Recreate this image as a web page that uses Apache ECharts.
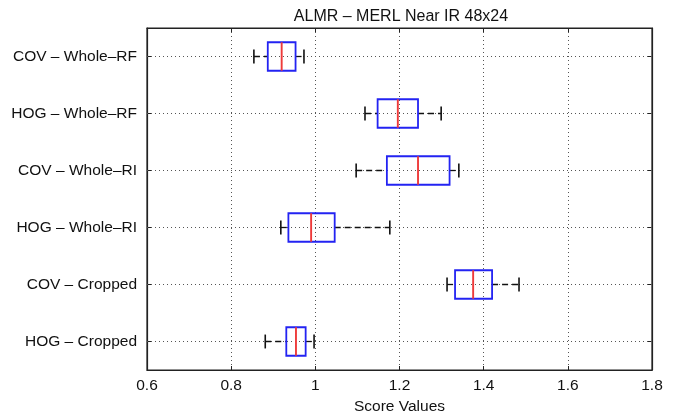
<!DOCTYPE html>
<html>
<head>
    <meta charset="utf-8"/>
    <title>ALMR – MERL Near IR 48x24</title>
    <script src="https://cdn.jsdelivr.net/npm/echarts@6/dist/echarts.min.js"></script>
    <style>
        html, body { margin: 0; padding: 0; background: #fff; }
        #main { width: 679px; height: 414px; }
    </style>
</head>
<body>
<div id="main"></div>
<script type="text/javascript">
    // data, top row first
    var categories = ['COV – Whole–RF', 'HOG – Whole–RF', 'COV – Whole–RI', 'HOG – Whole–RI', 'COV – Cropped', 'HOG – Cropped']
    var whiskerLow = [0.854, 1.118, 1.097, 0.918, 1.313, 0.881]
    var q1 = [0.887, 1.148, 1.170, 0.936, 1.332, 0.931]
    var median = [0.920, 1.196, 1.244, 0.990, 1.375, 0.954]
    var q3 = [0.953, 1.244, 1.319, 1.046, 1.420, 0.977]
    var whiskerHigh = [0.973, 1.299, 1.341, 1.177, 1.484, 0.997]
    var xMin = 0.6, xMax = 1.8, xStep = 0.2

    var FONT = '"Liberation Sans", Arial, Helvetica, sans-serif'
    var gridLine = { color: '#555', width: 1, type: [1, 3] }

    var rows = categories.map(function (c, i) {
        return [i, whiskerLow[i], q1[i], median[i], q3[i], whiskerHigh[i]]
    })

    function renderBox(params, api) {
        var i = api.value(0)
        var band = api.size([0, 1])[1]
        var half = band * 0.25
        var capHalf = band * 0.122
        var pLow = api.coord([api.value(1), i])
        var pQ1 = api.coord([api.value(2), i])
        var pMed = api.coord([api.value(3), i])
        var pQ3 = api.coord([api.value(4), i])
        var pHigh = api.coord([api.value(5), i])
        var y = pLow[1]
        var dash = { stroke: '#111', lineWidth: 1.3, lineDash: [6, 4] }
        var solid = { stroke: '#111', lineWidth: 1.6 }
        return {
            type: 'group',
            children: [
                { type: 'line', shape: { x1: pLow[0], y1: y, x2: pQ1[0], y2: y }, style: dash },
                { type: 'line', shape: { x1: pQ3[0], y1: y, x2: pHigh[0], y2: y }, style: dash },
                { type: 'line', shape: { x1: pLow[0], y1: y - capHalf, x2: pLow[0], y2: y + capHalf }, style: solid },
                { type: 'line', shape: { x1: pHigh[0], y1: y - capHalf, x2: pHigh[0], y2: y + capHalf }, style: solid },
                {
                    type: 'rect',
                    shape: { x: pQ1[0], y: y - half, width: pQ3[0] - pQ1[0], height: half * 2 },
                    style: { fill: 'none', stroke: '#2323f2', lineWidth: 1.8 }
                },
                {
                    type: 'line',
                    shape: { x1: pMed[0], y1: y - half, x2: pMed[0], y2: y + half },
                    style: { stroke: '#ee3a3a', lineWidth: 1.9 }
                }
            ]
        }
    }

    var myChart = echarts.init(document.getElementById('main'), null, { renderer: 'canvas' })
    myChart.setOption({
        animation: false,
        backgroundColor: '#fff',
        textStyle: { fontFamily: FONT },
        title: {
            text: 'ALMR – MERL Near IR 48x24',
            left: 396,
            top: 4,
            textAlign: 'center',
            textStyle: { fontFamily: FONT, fontSize: 16, fontWeight: 'normal', color: '#111' }
        },
        grid: {
            left: 147, right: 27, top: 28, bottom: 44,
            outerBoundsMode: 'none',
            show: true, borderColor: '#222', borderWidth: 1.2, backgroundColor: 'transparent'
        },
        xAxis: [{
            type: 'value',
            min: xMin, max: xMax, interval: xStep,
            name: 'Score Values',
            nameLocation: 'middle',
            nameGap: 25,
            nameTextStyle: { fontFamily: FONT, fontSize: 15.5, color: '#111' },
            axisLine: { show: true, lineStyle: { color: '#222', width: 1.2 } },
            axisTick: { show: true, inside: true, length: 4, lineStyle: { color: '#222' } },
            axisLabel: { fontFamily: FONT, fontSize: 15.5, color: '#111', margin: 8 },
            splitLine: { show: true, lineStyle: gridLine }
        }, {
            type: 'value',
            position: 'top',
            min: xMin, max: xMax, interval: xStep,
            axisLine: { show: true, lineStyle: { color: '#222', width: 1.2 } },
            axisTick: { show: true, inside: true, length: 4, lineStyle: { color: '#222' } },
            axisLabel: { show: false },
            splitLine: { show: false }
        }],
        yAxis: [{
            type: 'category',
            data: categories,
            inverse: true,
            axisLine: { show: true, lineStyle: { color: '#222', width: 1.2 } },
            axisTick: { show: true, inside: true, alignWithLabel: true, length: 4, lineStyle: { color: '#222' } },
            axisLabel: { fontFamily: FONT, fontSize: 15.5, color: '#111', margin: 10 },
            splitLine: { show: false }
        }, {
            type: 'category',
            data: categories,
            inverse: true,
            position: 'right',
            axisLine: { show: true, lineStyle: { color: '#222', width: 1.2 } },
            axisTick: { show: true, inside: true, alignWithLabel: true, length: 4, lineStyle: { color: '#222' } },
            axisLabel: { show: false },
            splitLine: { show: false }
        }],
        series: [{
            type: 'custom',
            xAxisIndex: 0,
            yAxisIndex: 0,
            renderItem: renderBox,
            encode: { x: [1, 2, 3, 4, 5], y: 0 },
            data: rows,
            z: 3,
            markLine: {
                silent: true,
                symbol: ['none', 'none'],
                label: { show: false },
                lineStyle: gridLine,
                z: 1,
                data: categories.map(function (c) { return { yAxis: c } })
            }
        }]
    })
</script>
</body>
</html>
